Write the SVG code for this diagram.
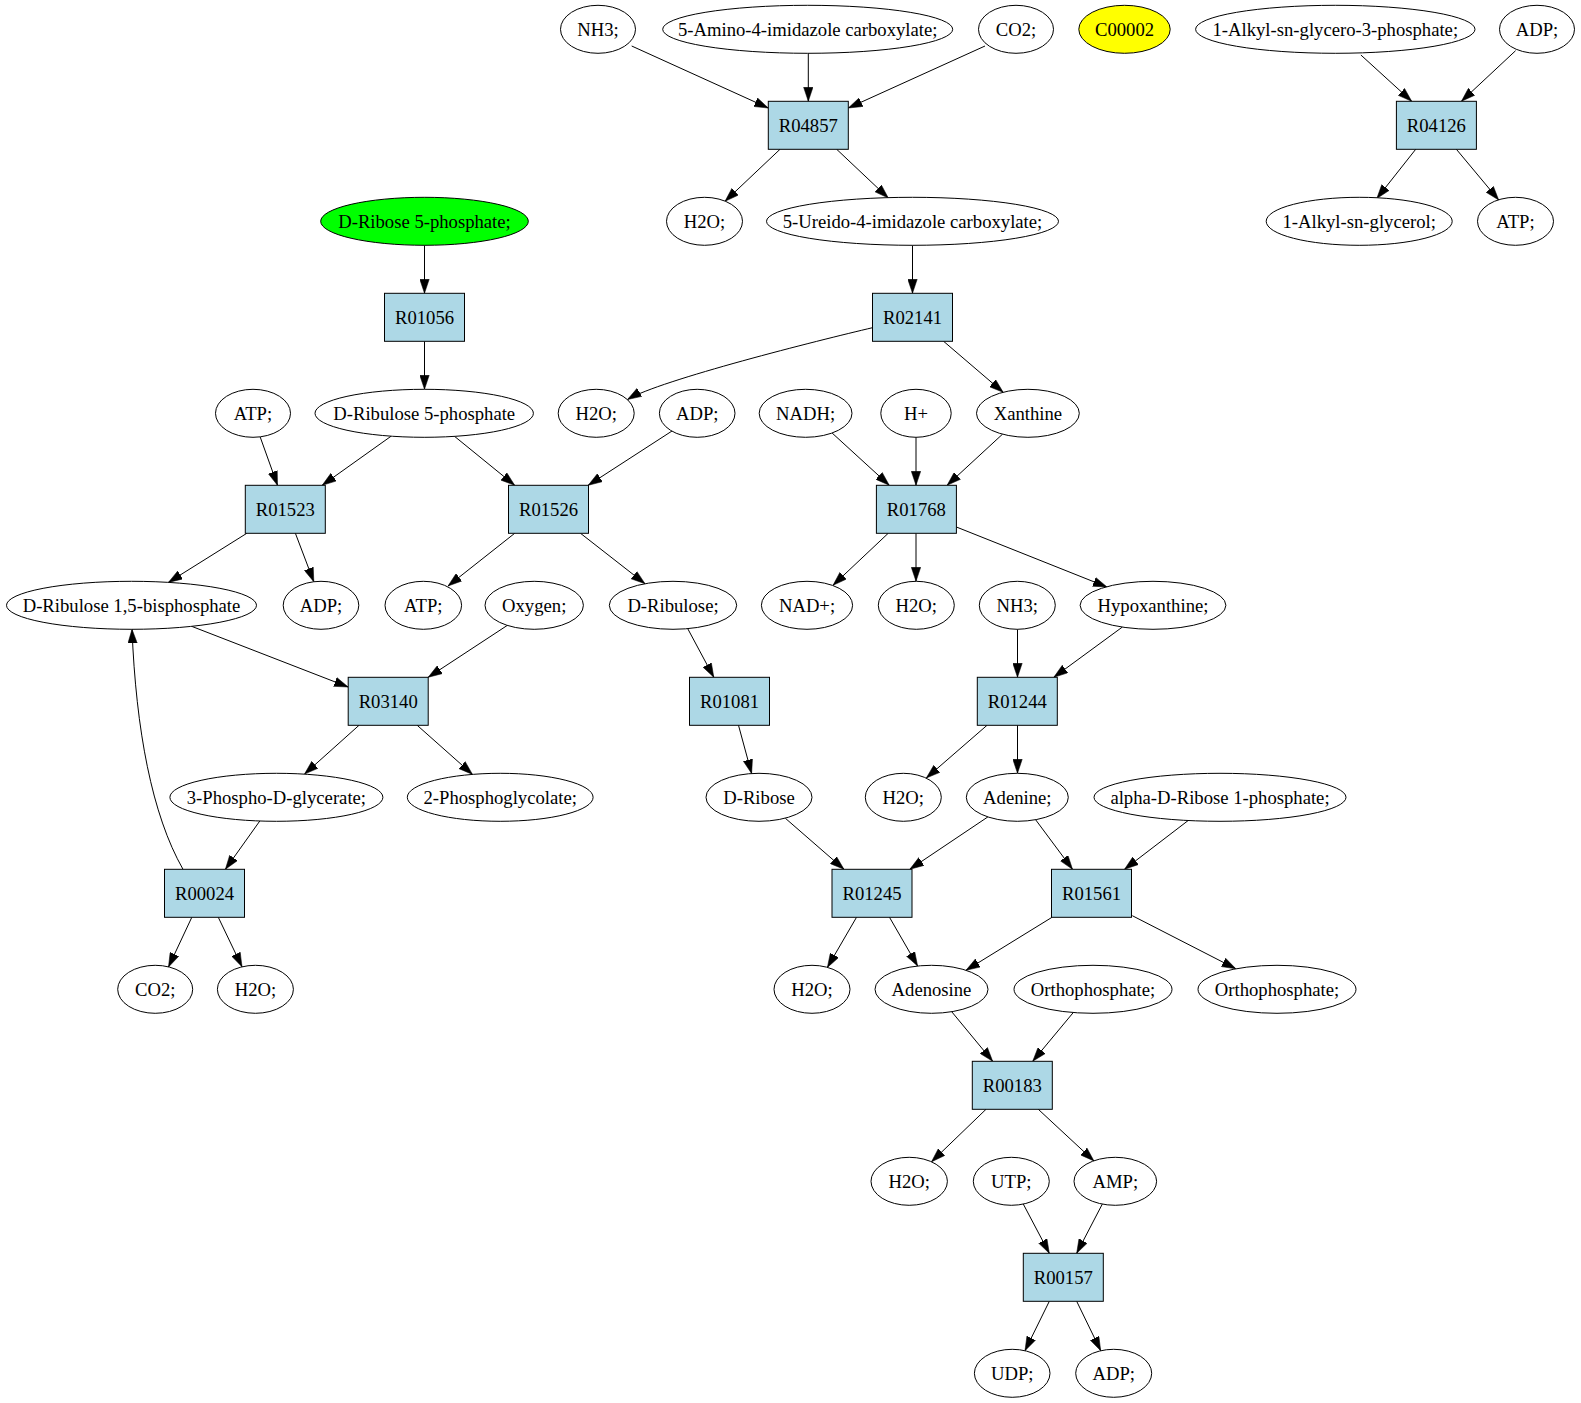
<svg xmlns="http://www.w3.org/2000/svg" width="1581" height="1403" viewBox="0 0 1581 1403">
<style>
.e{fill:#ffffff;stroke:#000000;stroke-width:1}
.g{fill:#00ff00;stroke:#000000;stroke-width:1}
.y{fill:#ffff00;stroke:#000000;stroke-width:1}
.r{fill:#add8e6;stroke:#000000;stroke-width:1}
text{font-family:"Liberation Serif","Times New Roman",serif;font-size:18.67px;text-anchor:middle;fill:#000000}
#edges path{fill:none;stroke:#000000;stroke-width:1;marker-end:url(#arr)}
</style>
<defs>
<marker id="arr" markerUnits="userSpaceOnUse" markerWidth="14" markerHeight="10" refX="14" refY="5" orient="auto">
<path d="M0,0.3 L14,5 L0,9.7 z" fill="#000000" stroke="#000000" stroke-width="0.5"/>
</marker>
</defs>
<rect x="0" y="0" width="1581" height="1403" fill="#ffffff"/>
<g id="edges">
<path d="M631.7,46 L768.3,108"/>
<path d="M808.3,53.3 L808.3,101.3"/>
<path d="M985,46 L848.3,108"/>
<path d="M780,149.3 L725,201.3"/>
<path d="M836.7,149.3 L888.3,198"/>
<path d="M1360.9,55 L1411.7,101.3"/>
<path d="M1515.6,50.7 L1461.4,101.3"/>
<path d="M1415.7,149.3 L1376.8,198.5"/>
<path d="M1456.4,149.3 L1498.7,200"/>
<path d="M424.5,245.3 L424.5,293.3"/>
<path d="M912.5,245.3 L912.5,293.3"/>
<path d="M424.5,341.3 L424.5,389.3"/>
<path d="M872.5,327.7 C820,340 660,380 627.5,399.5"/>
<path d="M943.6,341.3 L1003.2,392.3"/>
<path d="M260.2,437 L277.5,485.3"/>
<path d="M391.1,436.2 L322.2,485.3"/>
<path d="M454.6,436.4 L514.7,485.3"/>
<path d="M672,431 L588.2,485.3"/>
<path d="M832.1,433 L889.3,485.3"/>
<path d="M916,437.3 L916,485.3"/>
<path d="M1002.5,434.2 L947.1,485.3"/>
<path d="M246.8,533.3 L168.4,582.4"/>
<path d="M295.4,533.3 L313.8,581.8"/>
<path d="M514.7,533.3 L448,586"/>
<path d="M580.5,533.3 L645,583.7"/>
<path d="M888.2,533.3 L833,585.3"/>
<path d="M916,533.3 L916,581.3"/>
<path d="M956.4,527 L1107,587"/>
<path d="M191.6,626.3 L348.2,687"/>
<path d="M507.3,625.4 L428.2,677.3"/>
<path d="M687.8,628.8 L713.8,677.3"/>
<path d="M1017.5,629.3 L1017.5,677.3"/>
<path d="M1122.3,627.1 L1053.8,677.3"/>
<path d="M359,725.3 L304.5,774.1"/>
<path d="M417.2,725.3 L472.5,774.4"/>
<path d="M259.8,821 L225.4,869.3"/>
<path d="M183,869.3 C152,815 136,730 132,629.3"/>
<path d="M738.5,725.3 L751.6,773.5"/>
<path d="M987,725.3 L926.3,778"/>
<path d="M1017.5,725.3 L1017.5,773.3"/>
<path d="M785.4,818.3 L844,869.3"/>
<path d="M987.9,816.9 L909.8,869.3"/>
<path d="M1035.6,819.7 L1072.5,869.3"/>
<path d="M1188.2,820.5 L1124.5,869.3"/>
<path d="M191.8,917.3 L168.5,967"/>
<path d="M218.3,917.3 L242,966.8"/>
<path d="M856.5,917.3 L827.4,967.4"/>
<path d="M889.5,917.3 L917.6,966"/>
<path d="M1052,917.3 L966,970.3"/>
<path d="M1132.3,915.7 L1235.9,968.8"/>
<path d="M951.7,1011.7 L992.7,1061.3"/>
<path d="M1073.3,1012.5 L1032.7,1061.3"/>
<path d="M986,1109.3 L931.5,1161.8"/>
<path d="M1038.3,1109.3 L1094,1161"/>
<path d="M1023.3,1204.1 L1049.3,1253.3"/>
<path d="M1102.3,1204.1 L1076.7,1253.3"/>
<path d="M1049.3,1301.3 L1025,1350.7"/>
<path d="M1076.7,1301.3 L1100.7,1350.7"/>
</g>
<!-- row 0 -->
<g id="n_NH3_1"><ellipse class="e" cx="598" cy="29.3" rx="37.5" ry="24"/><text x="598" y="35.6">NH3;</text></g>
<g id="n_AIC"><ellipse class="e" cx="807.7" cy="29.3" rx="145" ry="24"/><text x="807.7" y="35.6">5-Amino-4-imidazole carboxylate;</text></g>
<g id="n_CO2_1"><ellipse class="e" cx="1016" cy="29.3" rx="37.5" ry="24"/><text x="1016" y="35.6">CO2;</text></g>
<g id="n_C00002"><ellipse class="y" cx="1124.5" cy="29.3" rx="45.7" ry="24"/><text x="1124.5" y="35.6">C00002</text></g>
<g id="n_AlkylG3P"><ellipse class="e" cx="1335.3" cy="29.3" rx="139.7" ry="24"/><text x="1335.3" y="35.6">1-Alkyl-sn-glycero-3-phosphate;</text></g>
<g id="n_ADP_1"><ellipse class="e" cx="1537" cy="29.3" rx="37.5" ry="24"/><text x="1537" y="35.6">ADP;</text></g>
<!-- row 1 -->
<g id="r_R04857"><rect class="r" x="768.3" y="101.3" width="80" height="48"/><text x="808.3" y="131.6">R04857</text></g>
<g id="r_R04126"><rect class="r" x="1396.4" y="101.3" width="80" height="48"/><text x="1436.4" y="131.6">R04126</text></g>
<!-- row 2 -->
<g id="n_R5P"><ellipse class="g" cx="424.5" cy="221.3" rx="103.8" ry="24"/><text x="424.5" y="227.6">D-Ribose 5-phosphate;</text></g>
<g id="n_H2O_1"><ellipse class="e" cx="704.5" cy="221.3" rx="38" ry="24"/><text x="704.5" y="227.6">H2O;</text></g>
<g id="n_UIC"><ellipse class="e" cx="912.5" cy="221.3" rx="146" ry="24"/><text x="912.5" y="227.6">5-Ureido-4-imidazole carboxylate;</text></g>
<g id="n_AlkylG"><ellipse class="e" cx="1359.2" cy="221.3" rx="93" ry="24"/><text x="1359.2" y="227.6">1-Alkyl-sn-glycerol;</text></g>
<g id="n_ATP_1"><ellipse class="e" cx="1515.5" cy="221.3" rx="38" ry="24"/><text x="1515.5" y="227.6">ATP;</text></g>
<!-- row 3 -->
<g id="r_R01056"><rect class="r" x="384.5" y="293.3" width="80" height="48"/><text x="424.5" y="323.6">R01056</text></g>
<g id="r_R02141"><rect class="r" x="872.5" y="293.3" width="80" height="48"/><text x="912.5" y="323.6">R02141</text></g>
<!-- row 4 -->
<g id="n_ATP_2"><ellipse class="e" cx="253" cy="413.3" rx="37.5" ry="24"/><text x="253" y="419.6">ATP;</text></g>
<g id="n_Ru5P"><ellipse class="e" cx="424.2" cy="413.3" rx="109.2" ry="24"/><text x="424.2" y="419.6">D-Ribulose 5-phosphate</text></g>
<g id="n_H2O_2"><ellipse class="e" cx="596.2" cy="413.3" rx="38" ry="24"/><text x="596.2" y="419.6">H2O;</text></g>
<g id="n_ADP_2"><ellipse class="e" cx="697.2" cy="413.3" rx="37.8" ry="24"/><text x="697.2" y="419.6">ADP;</text></g>
<g id="n_NADH"><ellipse class="e" cx="805.6" cy="413.3" rx="46.4" ry="24"/><text x="805.6" y="419.6">NADH;</text></g>
<g id="n_Hplus"><ellipse class="e" cx="916" cy="413.3" rx="35.2" ry="24"/><text x="916" y="419.6">H+</text></g>
<g id="n_Xanthine"><ellipse class="e" cx="1027.9" cy="413.3" rx="51.4" ry="24"/><text x="1027.9" y="419.6">Xanthine</text></g>
<!-- row 5 -->
<g id="r_R01523"><rect class="r" x="245.3" y="485.3" width="80" height="48"/><text x="285.3" y="515.6">R01523</text></g>
<g id="r_R01526"><rect class="r" x="508.5" y="485.3" width="80" height="48"/><text x="548.5" y="515.6">R01526</text></g>
<g id="r_R01768"><rect class="r" x="876.4" y="485.3" width="80" height="48"/><text x="916.4" y="515.6">R01768</text></g>
<!-- row 6 -->
<g id="n_RuBP"><ellipse class="e" cx="131.5" cy="605.3" rx="125" ry="24"/><text x="131.5" y="611.6">D-Ribulose 1,5-bisphosphate</text></g>
<g id="n_ADP_3"><ellipse class="e" cx="321" cy="605.3" rx="37.8" ry="24"/><text x="321" y="611.6">ADP;</text></g>
<g id="n_ATP_3"><ellipse class="e" cx="423.3" cy="605.3" rx="38.3" ry="24"/><text x="423.3" y="611.6">ATP;</text></g>
<g id="n_Oxygen"><ellipse class="e" cx="534.2" cy="605.3" rx="49.2" ry="24"/><text x="534.2" y="611.6">Oxygen;</text></g>
<g id="n_Ribulose"><ellipse class="e" cx="673" cy="605.3" rx="63.7" ry="24"/><text x="673" y="611.6">D-Ribulose;</text></g>
<g id="n_NADplus"><ellipse class="e" cx="807" cy="605.3" rx="45.6" ry="24"/><text x="807" y="611.6">NAD+;</text></g>
<g id="n_H2O_3"><ellipse class="e" cx="916.3" cy="605.3" rx="38" ry="24"/><text x="916.3" y="611.6">H2O;</text></g>
<g id="n_NH3_2"><ellipse class="e" cx="1017.3" cy="605.3" rx="38" ry="24"/><text x="1017.3" y="611.6">NH3;</text></g>
<g id="n_Hypoxanthine"><ellipse class="e" cx="1153" cy="605.3" rx="72.9" ry="24"/><text x="1153" y="611.6">Hypoxanthine;</text></g>
<!-- row 7 -->
<g id="r_R03140"><rect class="r" x="348.2" y="677.3" width="80" height="48"/><text x="388.2" y="707.6">R03140</text></g>
<g id="r_R01081"><rect class="r" x="689.5" y="677.3" width="80" height="48"/><text x="729.5" y="707.6">R01081</text></g>
<g id="r_R01244"><rect class="r" x="977.3" y="677.3" width="80" height="48"/><text x="1017.3" y="707.6">R01244</text></g>
<!-- row 8 -->
<g id="n_3PG"><ellipse class="e" cx="276.4" cy="797.3" rx="106.5" ry="24"/><text x="276.4" y="803.6">3-Phospho-D-glycerate;</text></g>
<g id="n_2PG"><ellipse class="e" cx="500.2" cy="797.3" rx="92.9" ry="24"/><text x="500.2" y="803.6">2-Phosphoglycolate;</text></g>
<g id="n_Ribose"><ellipse class="e" cx="759" cy="797.3" rx="53" ry="24"/><text x="759" y="803.6">D-Ribose</text></g>
<g id="n_H2O_4"><ellipse class="e" cx="903.3" cy="797.3" rx="38" ry="24"/><text x="903.3" y="803.6">H2O;</text></g>
<g id="n_Adenine"><ellipse class="e" cx="1017.3" cy="797.3" rx="51" ry="24"/><text x="1017.3" y="803.6">Adenine;</text></g>
<g id="n_R1P"><ellipse class="e" cx="1220" cy="797.3" rx="126" ry="24"/><text x="1220" y="803.6">alpha-D-Ribose 1-phosphate;</text></g>
<!-- row 9 -->
<g id="r_R00024"><rect class="r" x="164.5" y="869.3" width="80" height="48"/><text x="204.5" y="899.6">R00024</text></g>
<g id="r_R01245"><rect class="r" x="832" y="869.3" width="80" height="48"/><text x="872" y="899.6">R01245</text></g>
<g id="r_R01561"><rect class="r" x="1051.5" y="869.3" width="80" height="48"/><text x="1091.5" y="899.6">R01561</text></g>
<!-- row 10 -->
<g id="n_CO2_2"><ellipse class="e" cx="155.2" cy="989.3" rx="37.5" ry="24"/><text x="155.2" y="995.6">CO2;</text></g>
<g id="n_H2O_5"><ellipse class="e" cx="255.4" cy="989.3" rx="38" ry="24"/><text x="255.4" y="995.6">H2O;</text></g>
<g id="n_H2O_6"><ellipse class="e" cx="812" cy="989.3" rx="38" ry="24"/><text x="812" y="995.6">H2O;</text></g>
<g id="n_Adenosine"><ellipse class="e" cx="931.5" cy="989.3" rx="56.5" ry="24"/><text x="931.5" y="995.6">Adenosine</text></g>
<g id="n_Pi_1"><ellipse class="e" cx="1093" cy="989.3" rx="79" ry="24"/><text x="1093" y="995.6">Orthophosphate;</text></g>
<g id="n_Pi_2"><ellipse class="e" cx="1277" cy="989.3" rx="79" ry="24"/><text x="1277" y="995.6">Orthophosphate;</text></g>
<!-- row 11 -->
<g id="r_R00183"><rect class="r" x="972.3" y="1061.3" width="80" height="48"/><text x="1012.3" y="1091.6">R00183</text></g>
<!-- row 12 -->
<g id="n_H2O_7"><ellipse class="e" cx="909.2" cy="1181.3" rx="38.2" ry="24"/><text x="909.2" y="1187.6">H2O;</text></g>
<g id="n_UTP"><ellipse class="e" cx="1011.3" cy="1181.3" rx="38" ry="24"/><text x="1011.3" y="1187.6">UTP;</text></g>
<g id="n_AMP"><ellipse class="e" cx="1115.3" cy="1181.3" rx="41.3" ry="24"/><text x="1115.3" y="1187.6">AMP;</text></g>
<!-- row 13 -->
<g id="r_R00157"><rect class="r" x="1023.3" y="1253.3" width="80" height="48"/><text x="1063.3" y="1283.6">R00157</text></g>
<!-- row 14 -->
<g id="n_UDP"><ellipse class="e" cx="1012.2" cy="1373.3" rx="37.8" ry="24"/><text x="1012.2" y="1379.6">UDP;</text></g>
<g id="n_ADP_4"><ellipse class="e" cx="1113.7" cy="1373.3" rx="38" ry="24"/><text x="1113.7" y="1379.6">ADP;</text></g>
</svg>
